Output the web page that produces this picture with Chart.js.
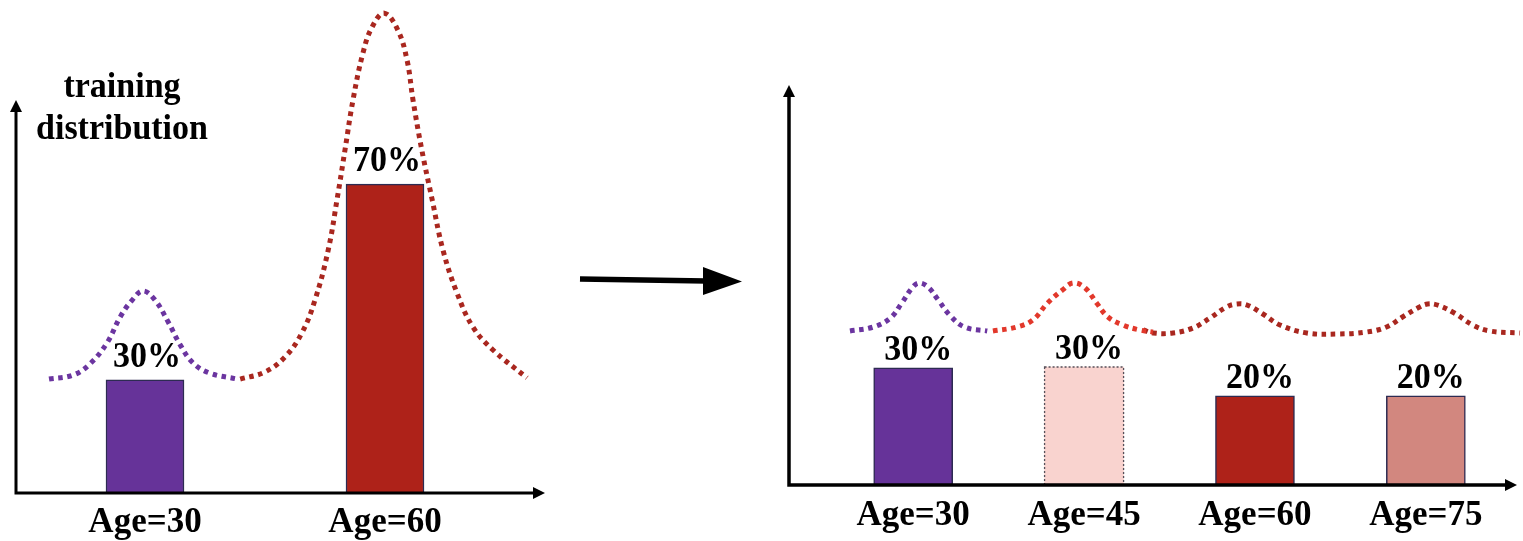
<!DOCTYPE html>
<html><head><meta charset="utf-8">
<script src="https://cdn.jsdelivr.net/npm/chart.js@4.4.1/dist/chart.umd.min.js"></script>
<style>
html,body{margin:0;padding:0;background:#fff;overflow:hidden;width:1523px;height:541px;}
#left{position:absolute;left:0;top:0;}
#right{position:absolute;left:760px;top:0;}
#arrow{position:absolute;left:0;top:0;}
</style></head><body>
<canvas id="left" width="560" height="560"></canvas>
<canvas id="right" width="763" height="560"></canvas>
<svg id="arrow" width="1523" height="541"><line x1="580" y1="279" x2="706" y2="281" stroke="#000" stroke-width="5.3"/><polygon points="703,267 742,281.5 703,295" fill="#000"/></svg>
<script>
// ---- data ----
const tickPrefix = 'Age=';
const yAxisTitle = ['training', 'distribution'];

const leftAges = [30, 60];
const leftBarValues = [28.8, 78.6];
const leftBarLabels = ['30%', '70%'];

const rightAges = [30, 45, 60, 75];
const rightBarValues = [29.3, 29.5, 22.3, 22.3];
const rightBarLabels = ['30%', '30%', '20%', '20%'];

// dotted density curves: [age, height]
const leftCurve30 = [[18.0,29.0],[21.0,30.0],[23.1,32.8],[25.25,38.2],[26.9,44.8],[28.4,49.1],[29.75,51.4],[31.25,49.1],[32.9,43.5],[34.4,37.7],[36.0,33.1],[38.1,30.5],[41.5,29.0]];
const leftCurve60 = [[41.9,29.0],[45.0,30.8],[47.5,34.6],[49.6,40.7],[51.25,49.1],[52.9,61.8],[54.0,74.6],[55.0,87.3],[56.0,100.0],[57.25,112.0],[58.4,118.6],[59.9,122.1],[61.6,117.8],[62.75,110.2],[63.5,100.0],[64.6,87.3],[65.9,74.6],[67.25,61.8],[69.0,50.9],[71.0,42.2],[73.5,36.4],[77.75,29.3]];

const rightCurve30 = [[24.45,38.5],[26.5,39.5],[28.0,41.75],[29.0,45.5],[29.9,49.25],[30.5,50.5],[31.3,49.5],[32.2,46.25],[33.2,42.5],[34.5,39.5],[36.5,38.5]];
const rightCurve45 = [[37.0,38.5],[39.1,39.5],[40.5,41.25],[41.8,45.5],[43.1,48.75],[44.05,50.5],[45.1,49.25],[46.1,45.5],[47.1,42.0],[48.4,40.0],[49.9,38.75],[51.05,38.25]];
const rightCurveOld = [[50.2,38.75],[51.05,38.0],[52.8,38.0],[54.55,39.25],[56.05,41.75],[57.5,44.5],[58.4,45.25],[59.3,45.0],[60.7,42.75],[62.2,40.0],[64.55,38.0],[67.2,37.75],[69.8,38.25],[71.55,39.5],[72.95,42.0],[74.45,44.5],[75.15,45.25],[76.0,45.0],[77.5,43.0],[79.1,40.0],[80.6,38.5],[83.26,38.0]];

// ---- helpers ----
const toPts = arr => arr.map(p => ({x: p[0], y: p[1]}));
const barPts = (xs, ys) => xs.map((x, i) => ({x, y: ys[i]}));
const SERIF = '"Liberation Serif", "Times New Roman", serif';

const decor = {
  id: 'decor',
  afterDatasetsDraw(chart, args, o) {
    const ctx = chart.ctx;
    const meta = chart.getDatasetMeta(0);
    meta.data.forEach((bar, i) => {
      const p = bar.getProps(['x', 'y', 'base', 'width'], true);
      if (o.dashed && o.dashed[i]) {
        ctx.save();
        ctx.strokeStyle = '#55505a';
        ctx.lineWidth = 1.3;
        ctx.setLineDash([2, 2]);
        ctx.strokeRect(p.x - p.width / 2, p.y, p.width, p.base - p.y);
        ctx.restore();
      }
      ctx.save();
      ctx.fillStyle = '#000';
      ctx.font = 'bold ' + o.fontSize + 'px ' + SERIF;
      ctx.textAlign = 'center';
      ctx.textBaseline = 'alphabetic';
      ctx.translate(p.x + o.labelDx, p.y - o.labelGap);
      ctx.scale(1, o.stretch);
      ctx.fillText(o.labels[i], 0, 0);
      ctx.restore();
    });
  },
  afterDraw(chart, args, o) {
    const ctx = chart.ctx, a = chart.chartArea;
    const lw = o.axisWidth, hl = 12, hw = 6;
    ctx.save();
    ctx.strokeStyle = '#000';
    ctx.fillStyle = '#000';
    ctx.lineWidth = lw;
    ctx.beginPath();
    ctx.moveTo(a.left, a.bottom + lw / 2);
    ctx.lineTo(a.left, a.top + hl - 1);
    ctx.moveTo(a.left - lw / 2, a.bottom);
    ctx.lineTo(a.right - hl + 1, a.bottom);
    ctx.stroke();
    ctx.beginPath();
    ctx.moveTo(a.left - hw, a.top + hl); ctx.lineTo(a.left, a.top); ctx.lineTo(a.left + hw, a.top + hl); ctx.closePath();
    ctx.fill();
    ctx.beginPath();
    ctx.moveTo(a.right - hl, a.bottom - hw); ctx.lineTo(a.right, a.bottom); ctx.lineTo(a.right - hl, a.bottom + hw); ctx.closePath();
    ctx.fill();
    if (o.title) {
      ctx.font = 'bold 34px ' + SERIF;
      ctx.textAlign = 'center';
      ctx.textBaseline = 'alphabetic';
      o.title.forEach((t, i) => {
        ctx.save();
        ctx.translate(a.left + 106, a.top - 3 + i * 42);
        ctx.scale(1, o.stretch);
        ctx.fillText(t, 0, 0);
        ctx.restore();
      });
    }
    ctx.restore();
  }
};

function curve(data, color) {
  return {
    type: 'line', data: toPts(data), borderColor: color, borderWidth: 5,
    borderDash: [4.6, 4.6], borderCapStyle: 'butt', pointRadius: 0, fill: false,
    tension: 0.4, clip: false
  };
}

function makeChart(id, ages, barValues, barColors, borderWidths, barWidth, curves, xMin, xMax, pad, tickPad, decorOpts) {
  return new Chart(document.getElementById(id), {
    type: 'bar',
    data: {
      datasets: [
        { type: 'bar', data: barPts(ages, barValues), backgroundColor: barColors,
          borderColor: '#2d2b52', borderWidth: borderWidths, barThickness: barWidth, order: 2 },
        ...curves.map(c => Object.assign(curve(c[0], c[1]), {order: 1}))
      ]
    },
    options: {
      responsive: false, animation: false, events: [],
      layout: { padding: pad },
      plugins: { legend: { display: false }, tooltip: { enabled: false }, decor: decorOpts },
      scales: {
        x: {
          type: 'linear', min: xMin, max: xMax, offset: false,
          grid: { display: false, drawTicks: false }, border: { display: false },
          afterBuildTicks: s => { s.ticks = ages.map(v => ({ value: v })); },
          ticks: {
            autoSkip: false, maxRotation: 0, padding: tickPad, color: '#000',
            font: { family: SERIF, size: 35, weight: 'bold', lineHeight: 1 },
            callback: v => tickPrefix + v
          }
        },
        y: { display: false, min: 0, max: 100 }
      }
    },
    plugins: [decor]
  });
}

makeChart('left', leftAges, leftBarValues, ['#663399', '#ae2219'], [1.5, 1.5], 78,
  [[leftCurve30, '#6b35a0'], [leftCurve60, '#a9271f']],
  13.875, 80, { left: 16, right: 15, top: 100, bottom: 7 }, 12.5,
  { labels: leftBarLabels, labelDx: 2, labelGap: 13, fontSize: 34, stretch: 1.08, axisWidth: 3, title: yAxisTitle });

makeChart('right', rightAges, rightBarValues, ['#663399', '#f9d3cf', '#ae2219', '#d2877f'], [1.5, 0, 1.5, 1.5], 79,
  [[rightCurve30, '#6b35a0'], [rightCurve45, '#e2382b'], [rightCurveOld, '#a9271f']],
  19.1, 83.0, { left: 29, right: 6, top: 85, bottom: 13 }, 13.5,
  { labels: rightBarLabels, labelDx: 5, labelGap: 8, fontSize: 34, stretch: 1.08, axisWidth: 3.5, dashed: [false, true, false, false] });
</script>
</body></html>
